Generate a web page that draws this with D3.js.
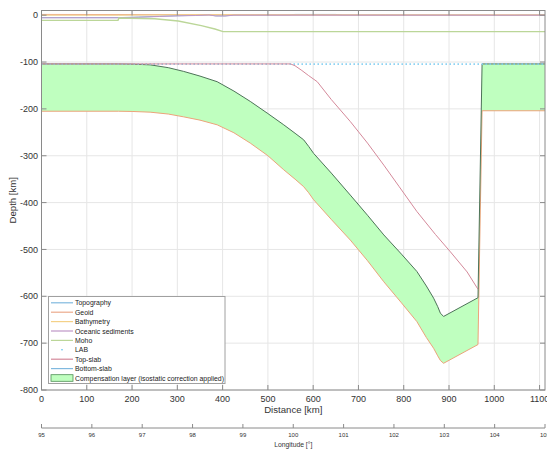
<!DOCTYPE html>
<html>
<head>
<meta charset="utf-8">
<script src="https://cdn.jsdelivr.net/npm/d3@7"></script>
<style>
  html, body { margin: 0; padding: 0; background: #fff; }
  svg { display: block; font-family: "Liberation Sans", Arial, Helvetica, sans-serif; }
</style>
</head>
<body>
<svg id="chart" width="547" height="451"></svg>
<script>
// ---- profile data (distance in km, depth/elevation in km) ----
const xTicks = [0, 100, 200, 300, 400, 500, 600, 700, 800, 900, 1000, 1100];
const yTicks = [-800, -700, -600, -500, -400, -300, -200, -100, 0];
const lonTicks = [95, 96, 97, 98, 99, 100, 101, 102, 103, 104, 105];

const topoDist = [0, 170, 215, 260, 300, 340, 370, 385, 405, 425, 470, 545, 560, 650, 665, 760, 860, 985, 1000, 1045, 1060, 1112];
const topoElev = [-5.2, -5.2, -4.0, -2.4, -1.2, -0.4, 0.8, -1.4, -1.5, 0.2, 0.3, 0.4, 1.6, 1.6, 0.3, 0.4, 0.3, 0.2, -0.6, -0.6, 0.2, 0.2];

const geoidDist = [0, 300, 600, 900, 1112];
const geoidElev = [1.6, 1.2, 0.6, 0.4, 0.3];

const bathyDist = [0, 170, 300, 360, 600, 985, 1045, 1112];
const bathyElev = [0.0, 0.0, 0.9, 0.8, 0.4, 0.5, 0.5, 0.4];

const sedDist = [0, 170, 215, 260, 300, 340, 370, 385, 405, 425, 1112];
const sedDepth = [-5.6, -5.6, -4.4, -2.8, -1.5, -0.7, 0.4, -1.7, -1.8, 0.0, 0.0];

const mohoDist = [0, 169, 171, 250, 302, 353, 383, 401, 1112];
const mohoDepth = [-11, -11, -6, -7.5, -12.4, -22.4, -29.5, -35, -35];

const labDist = [0, 1112];
const labDepth = [-104.5, -104.5];

const topSlabDist = [0, 550, 560, 575, 590, 609, 640, 682, 720, 756, 790, 829, 870, 903, 940, 964];
const topSlabDepth = [-104, -104, -108, -118, -129, -142, -180, -227, -273, -320, -366, -419, -468, -505, -548, -585];

// bottom of the slab = upper limit of the compensation layer
const botSlabDist = [0, 170, 200, 240, 280, 314, 350, 388, 425, 461, 500, 535, 560, 579, 590, 601, 640, 682, 720, 756, 795, 829, 850, 866, 875, 881, 888, 964, 973, 1112];
const botSlabDepth = [-104, -104, -104.5, -106, -112, -120, -130, -142, -162, -184, -210, -234, -252, -266, -280, -295, -337, -384, -427, -469, -510, -547, -578, -604, -622, -636, -643, -603, -104, -104];

// lower limit of the compensation layer
const compBotDist = [0, 170, 200, 240, 280, 314, 350, 388, 425, 461, 500, 535, 560, 579, 590, 601, 640, 682, 720, 756, 795, 829, 850, 866, 875, 881, 888, 964, 973, 1112];
const compBotDepth = [-205, -205, -205.5, -207, -211, -217, -224, -234, -251, -273, -300, -330, -350, -366, -379, -394, -436, -480, -524, -569, -614, -654, -688, -711, -727, -737, -743, -703, -204, -204];

const legendLabels = ["Topography", "Geoid", "Bathymetry", "Oceanic sediments", "Moho", "LAB", "Top-slab", "Bottom-slab", "Compensation layer (isostatic correction applied)"];

// ---- styling ----
const C = {
  topo: "#80b9df", geoid: "#ecaa8c", bathy: "#f4d188", sed: "#bf97c7",
  moho: "#bbd698", lab: "#7fcdf1", topSlab: "#d4899a", botSlab: "#80b9df",
  compFill: "#bfffbf", compEdge: "#4d7358", compBot: "#eca37a",
  axis: "#8a8a8a", text: "#333333", grid: "#e6e6e6"
};

const svg = d3.select("#chart");
const L = 41.5, R = 545, T = 10.5, B = 390;

const x = d3.scaleLinear().domain([0, 1112]).range([L, R]);
const y = d3.scaleLinear().domain([-800, 10]).range([B, T]);
const lon = d3.scaleLinear().domain([95, 105]).range([L, R]);

const zip = (a, b) => a.map((d, i) => [d, b[i]]);
const line = d3.line().x(d => x(d[0])).y(d => y(d[1]));

svg.append("defs").append("clipPath").attr("id", "plotclip")
  .append("rect").attr("x", L).attr("y", T).attr("width", R - L).attr("height", B - T);

// grid
const grid = svg.append("g");
grid.selectAll(".gx").data(xTicks).join("line")
  .attr("x1", d => x(d)).attr("x2", d => x(d)).attr("y1", T).attr("y2", B)
  .attr("stroke", C.grid).attr("stroke-width", 1);
grid.selectAll(".gy").data(yTicks).join("line")
  .attr("x1", L).attr("x2", R).attr("y1", d => y(d)).attr("y2", d => y(d))
  .attr("stroke", C.grid).attr("stroke-width", 1);

const plot = svg.append("g").attr("clip-path", "url(#plotclip)");

// compensation layer polygon
const compPoly = zip(botSlabDist, botSlabDepth).concat(zip(compBotDist, compBotDepth).reverse());
plot.append("path").attr("d", line(compPoly) + "Z")
  .attr("fill", C.compFill).attr("stroke", "none");
plot.append("path").attr("d", line(zip(compBotDist, compBotDepth)))
  .attr("fill", "none").attr("stroke", C.compBot).attr("stroke-width", 1);

// surface lines
const series = [
  [topoDist, topoElev, C.topo, 1],
  [geoidDist, geoidElev, C.geoid, 1],
  [bathyDist, bathyElev, C.bathy, 1],
  [sedDist, sedDepth, C.sed, 1],
  [mohoDist, mohoDepth, C.moho, 1.4]
];
series.forEach(([dx, dy, col, w]) => {
  plot.append("path").attr("d", line(zip(dx, dy)))
    .attr("fill", "none").attr("stroke", col).attr("stroke-width", w);
});

// bottom-slab / top of the compensation layer
plot.append("path").attr("d", line(zip(botSlabDist, botSlabDepth)))
  .attr("fill", "none").attr("stroke", C.compEdge).attr("stroke-width", 1);

// LAB
plot.append("path").attr("d", line(zip(labDist, labDepth)))
  .attr("fill", "none").attr("stroke", C.lab).attr("stroke-width", 1.6)
  .attr("stroke-dasharray", "1.4,2.6");

// top-slab
plot.append("path").attr("d", line(zip(topSlabDist, topSlabDepth)))
  .attr("fill", "none").attr("stroke", C.topSlab).attr("stroke-width", 1);

// axes box
const axes = svg.append("g");
axes.append("rect").attr("x", L).attr("y", T).attr("width", R - L).attr("height", B - T)
  .attr("fill", "none").attr("stroke", C.axis).attr("stroke-width", 1);

const tickLen = 5;
// x ticks (bottom and top, inward)
axes.selectAll(".xtb").data(xTicks).join("line")
  .attr("x1", d => x(d)).attr("x2", d => x(d)).attr("y1", B).attr("y2", B - tickLen)
  .attr("stroke", C.axis);
axes.selectAll(".xtt").data(xTicks).join("line")
  .attr("x1", d => x(d)).attr("x2", d => x(d)).attr("y1", T).attr("y2", T + tickLen)
  .attr("stroke", C.axis);
// y ticks (left and right, inward)
axes.selectAll(".ytl").data(yTicks).join("line")
  .attr("x1", L).attr("x2", L + tickLen).attr("y1", d => y(d)).attr("y2", d => y(d))
  .attr("stroke", C.axis);
axes.selectAll(".ytr").data(yTicks).join("line")
  .attr("x1", R).attr("x2", R - tickLen).attr("y1", d => y(d)).attr("y2", d => y(d))
  .attr("stroke", C.axis);

axes.selectAll(".xl").data(xTicks).join("text")
  .attr("x", d => x(d)).attr("y", 401.5).attr("text-anchor", "middle")
  .attr("font-size", 9).attr("fill", C.text).text(d => d);
axes.selectAll(".yl").data(yTicks).join("text")
  .attr("x", 38).attr("y", d => y(d) + 3.2).attr("text-anchor", "end")
  .attr("font-size", 9).attr("fill", C.text).text(d => d);

svg.append("text").attr("x", (L + R) / 2).attr("y", 413).attr("text-anchor", "middle")
  .attr("font-size", 9.6).attr("fill", C.text).text("Distance [km]");
svg.append("text").attr("transform", `translate(16,${(T + B) / 2}) rotate(-90)`)
  .attr("text-anchor", "middle").attr("font-size", 9.6).attr("fill", C.text).text("Depth [km]");

// longitude axis
const lonY = 428;
const lonAxis = svg.append("g");
lonAxis.append("line").attr("x1", L).attr("x2", R).attr("y1", lonY).attr("y2", lonY)
  .attr("stroke", C.axis);
lonAxis.selectAll(".lt").data(lonTicks).join("line")
  .attr("x1", d => lon(d)).attr("x2", d => lon(d)).attr("y1", lonY).attr("y2", lonY - 4)
  .attr("stroke", C.axis);
lonAxis.selectAll(".ll").data(lonTicks).join("text")
  .attr("x", d => lon(d)).attr("y", 436.5).attr("text-anchor", "middle")
  .attr("font-size", 6).attr("fill", C.text).text(d => d);
svg.append("text").attr("x", (L + R) / 2).attr("y", 447).attr("text-anchor", "middle")
  .attr("font-size", 6.8).attr("fill", C.text).text("Longitude [°]");

// legend
const lg = svg.append("g");
const lgX = 48.5, lgY = 296.5, lgW = 176.5, lgH = 87, rowH = 9.4;
lg.append("rect").attr("x", lgX).attr("y", lgY).attr("width", lgW).attr("height", lgH)
  .attr("fill", "#fff").attr("stroke", "#a0a0a0").attr("stroke-width", 1);
const legendStyles = [
  { type: "line", col: C.topo }, { type: "line", col: C.geoid }, { type: "line", col: C.bathy },
  { type: "line", col: C.sed }, { type: "line", col: C.moho }, { type: "dot", col: "#4DBEEE" },
  { type: "line", col: C.topSlab }, { type: "line", col: C.botSlab }, { type: "patch" }
];
legendLabels.forEach((lab, i) => {
  const cy = lgY + 6.3 + i * rowH;
  const st = legendStyles[i];
  if (st.type === "line") {
    lg.append("line").attr("x1", 51).attr("x2", 73).attr("y1", cy).attr("y2", cy)
      .attr("stroke", st.col).attr("stroke-width", 1.2);
  } else if (st.type === "dot") {
    lg.append("circle").attr("cx", 62).attr("cy", cy).attr("r", 0.8).attr("fill", st.col);
  } else {
    lg.append("rect").attr("x", 51).attr("y", cy - 3.3).attr("width", 22).attr("height", 6.6)
      .attr("fill", C.compFill).attr("stroke", "#4f8f55").attr("stroke-width", 0.8);
  }
  lg.append("text").attr("x", 75).attr("y", cy + 2.5).attr("font-size", 6.9)
    .attr("fill", "#222").text(lab);
});
</script>
</body>
</html>
